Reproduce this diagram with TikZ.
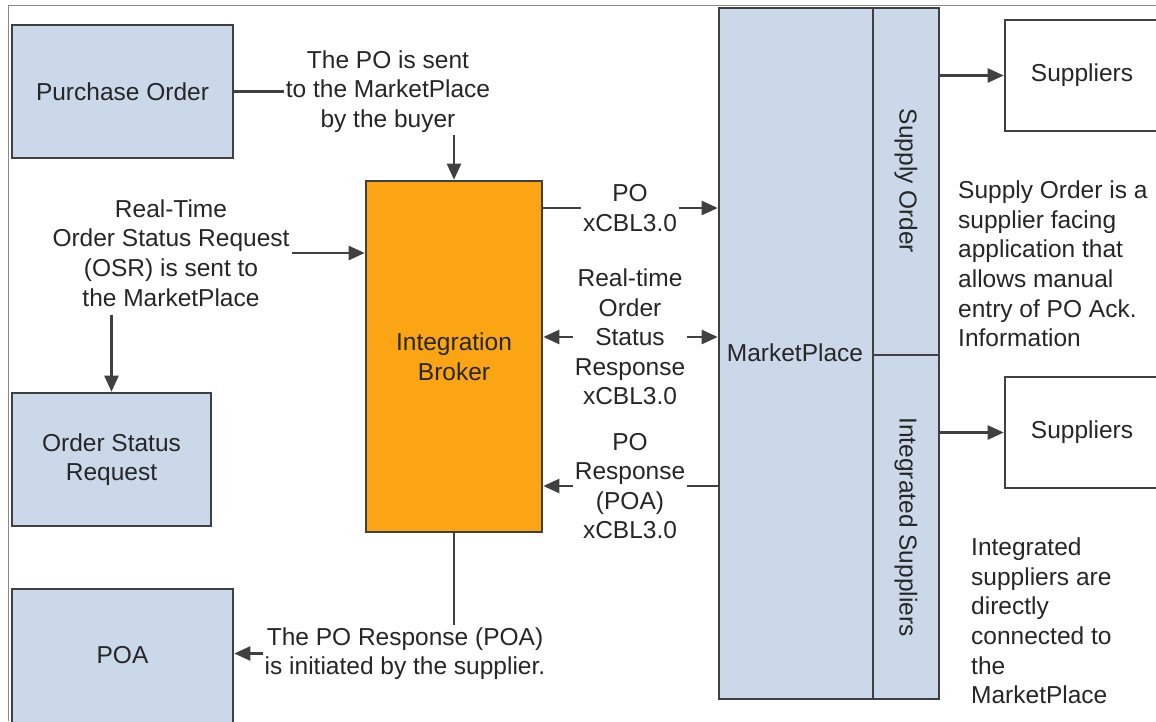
\documentclass[tikz,border=0pt]{standalone}
\usepackage{fontspec}
\setmainfont{Liberation Sans}
\usetikzlibrary{arrows.meta}
\definecolor{boxblue}{HTML}{CBD8EA}
\definecolor{brokerorange}{HTML}{FBA514}
\definecolor{edgegray}{HTML}{404040}
\definecolor{ink}{HTML}{262626}
\definecolor{framegray}{HTML}{8A8A8A}
\newcommand\labelfont{\fontsize{24.5}{29.6}\selectfont}
\begin{document}
\begin{tikzpicture}[x=1pt,y=-1pt,
  every node/.style={font=\labelfont, text=ink},
  box/.style={draw=edgegray, line width=2.6pt, fill=boxblue, inner sep=0pt, align=center},
  plainbox/.style={draw=edgegray, line width=2.6pt, fill=white, inner sep=0pt, align=center},
  lbl/.style={align=center, inner sep=2pt},
  note/.style={align=left, inner sep=0pt, anchor=west},
  ln/.style={draw=edgegray, line width=2.4pt},
  arr/.style={ln, -{Triangle[length=16pt,width=14pt]}}]
\useasboundingbox (0,0) rectangle (1156,721);
% outer frame (top and left edges)
\coordinate (fTL) at (8,5);
\coordinate (fTR) at (1156,5);
\coordinate (fBL) at (8,721);
\draw[framegray, line width=1pt] (fBL) -- (fTL) -- (fTR);

% left column of document boxes
\node[box, minimum width=221pt, minimum height=133pt] (po) at (122.5,91.5) {Purchase Order};
\node[box, minimum width=199pt, minimum height=133pt] (osr) at (111.5,459.5) {Order Status\\Request};
\node[box, minimum width=221pt, minimum height=150pt] (poa) at (122.5,664) {};
\node at (122.5,655) (poalbl) {POA};

% integration broker
\node[draw=edgegray, line width=2.6pt, fill=brokerorange, inner sep=0pt, align=center,
      minimum width=176pt, minimum height=351pt] (ib) at (454,356.5) {Integration\\Broker};

% marketplace with its two side panels
\node[box, minimum width=154pt, minimum height=691pt] (mp) at (796,353.5) {};
\node at (795,353) (mplbl) {MarketPlace};
\node[box, minimum width=66pt, minimum height=347pt] (so) at (906,181.5) {};
\node[box, minimum width=66pt, minimum height=344pt] (is) at (906,527) {};
\node[rotate=-90] (solbl) at (906,181) {Supply Order};
\node[rotate=-90] (islbl) at (906,527) {Integrated Suppliers};

% supplier boxes
\node[plainbox, minimum width=154pt, minimum height=111pt] (sup1) at (1082,75.5) {Suppliers};
\node[plainbox, minimum width=154pt, minimum height=111pt] (sup2) at (1082,432.5) {Suppliers};

% flow labels
\node[lbl] (tpo) at (388,91.5) {The PO is sent\\to the MarketPlace\\by the buyer};
\node[lbl] (tosr) at (171,253) {Real-Time\\Order Status Request\\(OSR) is sent to\\the MarketPlace};
\node[lbl] (txpo) at (630,208) {PO\\xCBL3.0};
\node[lbl] (txrt) at (630,337) {Real-time\\Order\\Status\\Response\\xCBL3.0};
\node[lbl] (txpoa) at (630,486) {PO\\Response\\(POA)\\xCBL3.0};
\node[lbl] (tpoa) at (405,653.5) {The PO Response (POA)\\is initiated by the supplier.};

% side notes
\node[note] (nso) at (958,264) {Supply Order is a\\supplier facing\\application that\\allows manual\\entry of PO Ack.\\Information};
\node[note] (nis) at (971,621) {Integrated\\suppliers are\\directly\\connected to\\the\\MarketPlace};

% connectors
\draw[ln] (po.east) -- (tpo.west);
\draw[arr] (tpo.south -| ib.north) -- (ib.north);
\draw[arr] (tosr.east) -- (tosr.east -| ib.west);
\draw[arr] ([yshift=-6pt]tosr.south -| osr.north) -- (osr.north);
\draw[ln] (ib.east |- txpo.west) -- (txpo.west);
\draw[arr] (txpo.east) -- (txpo.east -| mp.west);
\draw[arr] (txrt.west) -- (txrt.west -| ib.east);
\draw[arr] (txrt.east) -- (txrt.east -| mp.west);
\draw[ln] (mp.west |- txpoa.east) -- (txpoa.east);
\draw[arr] (txpoa.west) -- (txpoa.west -| ib.east);
\draw[ln] (ib.south) -- (ib.south |- tpoa.north);
\draw[arr] (tpoa.west) -- (tpoa.west -| poa.east);
\draw[arr] (so.east |- sup1.west) -- (sup1.west);
\draw[arr] (is.east |- sup2.west) -- (sup2.west);
\end{tikzpicture}
\end{document}
